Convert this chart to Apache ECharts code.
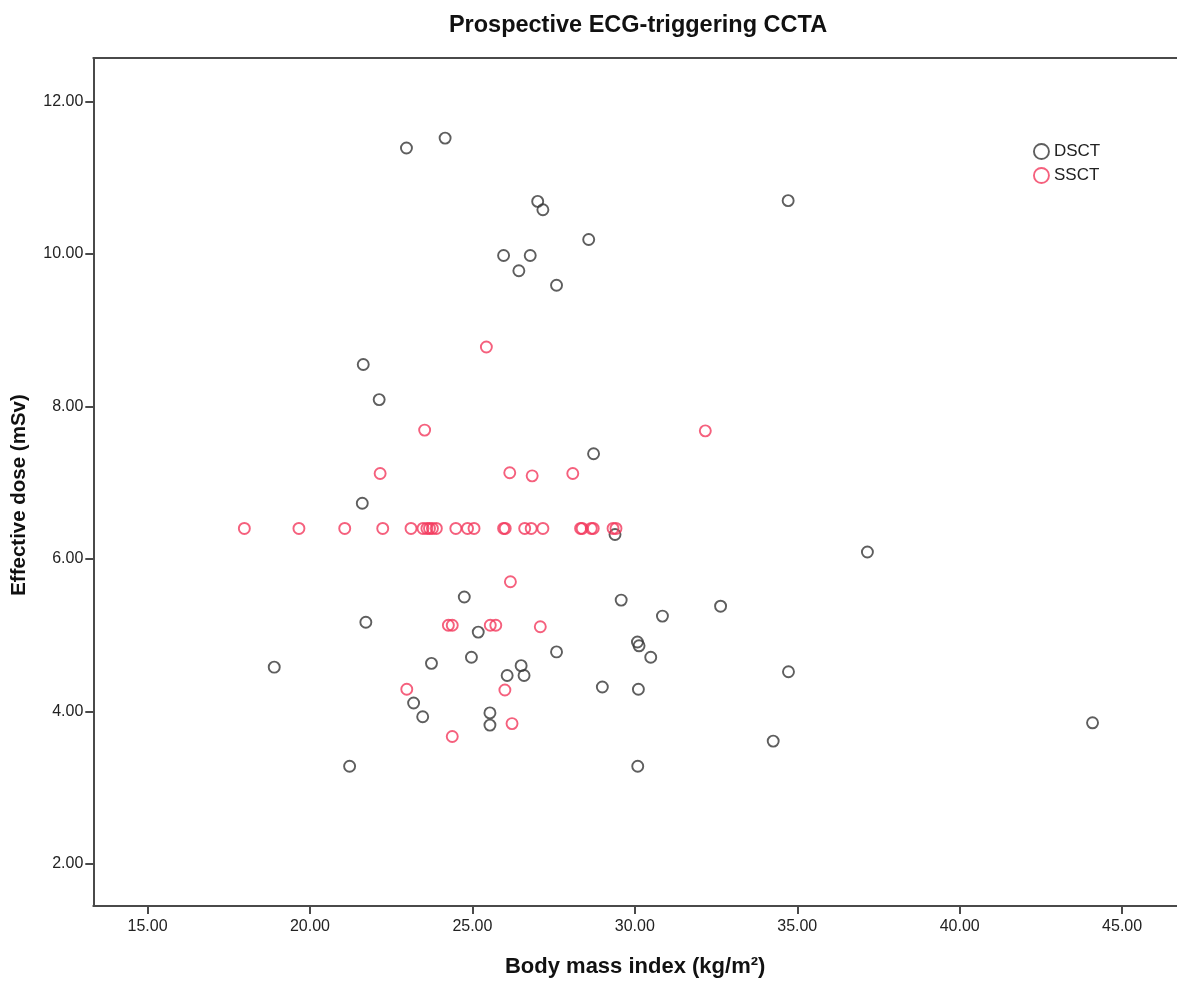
<!DOCTYPE html>
<html>
<head>
<meta charset="utf-8">
<script src="https://cdn.jsdelivr.net/npm/echarts@6/dist/echarts.min.js"></script>
<style>
  html, body { margin: 0; padding: 0; background: #fff; overflow: hidden; }
  #chart { width: 1177px; height: 983px; }
</style>
</head>
<body>
<div id="chart"></div>
<script>
// Body mass index (kg/m²) and effective dose (mSv) per patient, by scanner type
const dsctBmi  = [22.97, 24.16, 27.01, 27.17, 28.58, 25.96, 26.78, 26.43, 27.59, 34.72,
                  21.64, 22.13, 28.73, 21.61, 29.39, 37.16, 24.75, 29.58, 32.64, 30.85,
                  21.72, 25.18, 30.08, 30.13, 27.59, 30.49, 24.97, 23.74, 18.90, 26.50,
                  34.73, 26.07, 26.59, 29.00, 30.11, 23.19, 25.54, 23.47, 44.09, 25.54,
                  34.26, 21.22, 30.09];
const dsctDose = [11.39, 11.52, 10.69, 10.58, 10.19, 9.98, 9.98, 9.78, 9.59, 10.70,
                  8.55, 8.09, 7.38, 6.73, 6.32, 6.09, 5.50, 5.46, 5.38, 5.25,
                  5.17, 5.04, 4.91, 4.86, 4.78, 4.71, 4.71, 4.63, 4.58, 4.60,
                  4.52, 4.47, 4.47, 4.32, 4.29, 4.11, 3.98, 3.93, 3.85, 3.82,
                  3.61, 3.28, 3.28];

const ssctBmi  = [25.43, 23.53, 32.17, 22.16, 26.15, 26.84, 28.09,
                  17.98, 19.66, 21.07, 22.24, 23.11, 23.48, 23.60, 23.68, 23.77, 23.89,
                  24.49, 24.85, 25.05, 25.96, 26.01, 26.61, 26.81, 27.17, 28.33, 28.38,
                  28.66, 28.72, 29.33, 29.42,
                  26.17, 24.26, 24.38, 25.55, 25.72, 27.09, 22.98, 26.00, 26.22, 24.38];
const ssctDose = [8.78, 7.69, 7.68, 7.12, 7.13, 7.09, 7.12,
                  6.40, 6.40, 6.40, 6.40, 6.40, 6.40, 6.40, 6.40, 6.40, 6.40,
                  6.40, 6.40, 6.40, 6.40, 6.40, 6.40, 6.40, 6.40, 6.40, 6.40,
                  6.40, 6.40, 6.40, 6.40,
                  5.70, 5.13, 5.13, 5.13, 5.13, 5.11, 4.29, 4.28, 3.84, 3.67];

const xTicks = [15, 20, 25, 30, 35, 40, 45];
const yTicks = [2, 4, 6, 8, 10, 12];

const groupNames = ['DSCT', 'SSCT'];
const groupColors = ['#363636', '#f2385c'];

const pairs = (xs, ys) => xs.map((x, i) => [x, ys[i]]);

const axisColor = '#4a4a4a';
const fontFamily = '"Liberation Sans", Arial, sans-serif';
const xMin = 13.33, xMax = 46.69;

const chart = echarts.init(document.getElementById('chart'), null, { renderer: 'canvas' });

// hollow ring marker
const ringStyle = (c) => ({ color: 'rgba(255,255,255,0)', borderColor: c, borderWidth: 1.9 });

chart.setOption({
  backgroundColor: '#fff',
  animation: false,
  title: {
    text: 'Prospective ECG-triggering CCTA',
    left: 633,
    textAlign: 'center',
    top: 9,
    textStyle: { fontFamily, fontSize: 23.5, fontWeight: 'bold', color: '#111' }
  },
  // plot area runs past the right edge of the canvas
  grid: { left: 93.3, top: 58, width: 1088.7, bottom: 74, show: false },
  legend: {
    orient: 'vertical',
    left: 1028,
    top: 138,
    itemWidth: 15,
    itemHeight: 15,
    itemGap: 7,
    textStyle: { fontFamily, fontSize: 17, color: '#222' },
    data: groupNames.map((n, i) => ({ name: n, icon: 'circle', itemStyle: ringStyle(groupColors[i]) }))
  },
  xAxis: [
    {
      type: 'value',
      min: xMin,
      max: xMax,
      name: 'Body mass index (kg/m²)',
      nameLocation: 'middle',
      nameGap: 50,
      nameTextStyle: { fontFamily, fontSize: 22, fontWeight: 'bold', color: '#111' },
      splitLine: { show: false },
      axisLine: { show: true, lineStyle: { color: axisColor, width: 2 } },
      axisTick: { show: true, length: 8, customValues: xTicks, lineStyle: { color: axisColor, width: 2 } },
      axisLabel: {
        customValues: xTicks, margin: 13,
        fontFamily, fontSize: 16, color: '#222',
        formatter: v => v.toFixed(2)
      }
    },
    {
      // top edge of the frame
      type: 'value', position: 'top', min: xMin, max: xMax,
      axisLine: { show: true, lineStyle: { color: axisColor, width: 2 } },
      axisTick: { show: false }, axisLabel: { show: false }, splitLine: { show: false }
    }
  ],
  yAxis: {
    type: 'value',
    min: 1.447,
    max: 12.571,
    name: 'Effective dose (mSv)',
    nameLocation: 'middle',
    nameGap: 63,
    nameTextStyle: { fontFamily, fontSize: 20.5, fontWeight: 'bold', color: '#111', padding: [0, 26, 0, 0] },
    splitLine: { show: false },
    axisLine: { show: true, lineStyle: { color: axisColor, width: 2 } },
    axisTick: { show: true, length: 8, customValues: yTicks, lineStyle: { color: axisColor, width: 2 } },
    axisLabel: {
      customValues: yTicks, margin: 10,
      fontFamily, fontSize: 16, color: '#222',
      formatter: v => v.toFixed(2)
    }
  },
  series: [
    {
      name: groupNames[0], type: 'scatter', symbol: 'circle', symbolSize: 11,
      itemStyle: ringStyle(groupColors[0]),
      data: pairs(dsctBmi, dsctDose)
    },
    {
      name: groupNames[1], type: 'scatter', symbol: 'circle', symbolSize: 11,
      itemStyle: ringStyle(groupColors[1]),
      data: pairs(ssctBmi, ssctDose)
    }
  ]
});
</script>
</body>
</html>
